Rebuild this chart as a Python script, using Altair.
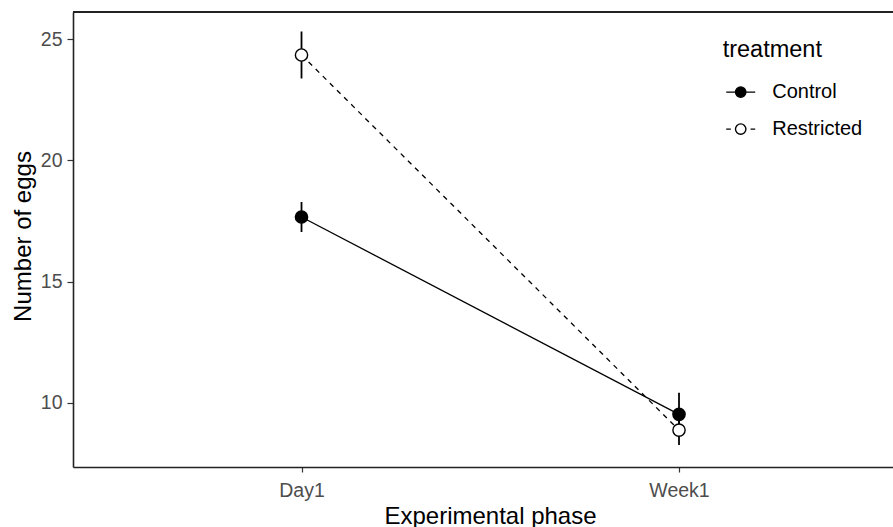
import altair as alt
import pandas as pd

phases = ["Day1", "Week1"]
treatments = ["Control", "Restricted"]
control_mean = [17.665, 9.51]
control_se = [0.62, 0.89]
restricted_mean = [24.36, 8.86]
restricted_se = [0.97, 0.62]

rows = []
for t, means, ses in [("Control", control_mean, control_se),
                      ("Restricted", restricted_mean, restricted_se)]:
    for p, m, s in zip(phases, means, ses):
        rows.append({"phase": p, "treatment": t, "mean": m, "lo": m - s, "hi": m + s})
df = pd.DataFrame(rows)

FONT = "Liberation Sans"

xscale = alt.Scale(type="point", padding=0.5861, align=0.5164)
yscale = alt.Scale(domain=[7.335, 26.136], nice=False, zero=False)

xaxis = alt.Axis(title="Experimental phase", labelAngle=0, tickSize=5, tickWidth=1.2,
                 tickColor="#333333", domainColor="#222222", domainWidth=1.6,
                 labelFont=FONT, labelFontSize=19.5, labelColor="#4d4d4d", labelPadding=9,
                 titleFont=FONT, titleFontSize=24, titleFontWeight="normal", titleColor="black",
                 titleBaseline="alphabetic", titleY=56, titleX=417, grid=False)
yaxis = alt.Axis(title="Number of eggs", values=[10, 15, 20, 25], tickSize=6, tickWidth=1.2,
                 tickColor="#333333", domainColor="#222222", domainWidth=1.6,
                 labelFont=FONT, labelFontSize=19.5, labelColor="#4d4d4d", labelPadding=5,
                 titleFont=FONT, titleFontSize=24, titleFontWeight="normal", titleColor="black",
                 titleBaseline="alphabetic", titleX=-42.5, titleY=224, grid=False)

X = alt.X("phase:N", scale=xscale, axis=xaxis, sort=phases)
Y = alt.Y("mean:Q", scale=yscale, axis=yaxis)

fill_scale = alt.Scale(domain=treatments, range=["black", "white"])

path_c = ("M-1,0L1,0M-0.36,0A0.36,0.36 0 1,1 0.36,0"
          "A0.36,0.36 0 1,1 -0.36,0Z")
path_r = ("M-1,0L-0.68,0M0.68,0L1,0M-0.36,0A0.36,0.36 0 1,1 0.36,0"
          "A0.36,0.36 0 1,1 -0.36,0Z")

legend = alt.Legend(title="treatment", orient="none", legendX=649.7, legendY=26.1,
                    padding=0, titleFont=FONT, titleFontSize=23.5, titleFontWeight="normal",
                    titleColor="black", titlePadding=15, labelFont=FONT, labelFontSize=20,
                    labelColor="black", rowPadding=11, symbolOffset=2.5, labelOffset=16,
                    symbolSize=841, symbolStrokeColor="black", symbolStrokeWidth=1.4)

base = alt.Chart(df)

line_control = base.mark_line(color="black", strokeWidth=1.3).transform_filter(
    alt.datum.treatment == "Control"
).encode(x=X, y=Y)

line_restricted = base.mark_line(color="black", strokeWidth=1.3, strokeDash=[5, 5]).transform_filter(
    alt.datum.treatment == "Restricted"
).encode(x=X, y=Y)

bars = base.mark_rule(color="black", strokeWidth=1.8).encode(
    x=X,
    y=alt.Y("lo:Q", scale=yscale, axis=yaxis),
    y2="hi:Q",
)

points = base.mark_point(filled=True, size=150, stroke="black", strokeWidth=1.4,
                         opacity=1).encode(
    x=X, y=Y,
    fill=alt.Fill("treatment:N", scale=fill_scale, legend=legend),
)

legend_layer = base.mark_point(filled=True, stroke="black", strokeWidth=1.4,
                               opacity=1).transform_filter("false").encode(
    x=X, y=Y,
    fill=alt.Fill("treatment:N", scale=fill_scale, legend=legend),
    shape=alt.Shape("treatment:N", scale=alt.Scale(domain=treatments, range=[path_c, path_r]),
                    legend=legend),
)

frame = base.mark_rule(color="#222222", strokeWidth=1.6).encode(
    y=alt.value(0), x=alt.value(0), x2=alt.value(820)
)

chart = alt.layer(line_control, line_restricted, bars, points, legend_layer, frame).properties(
    width=820, height=455,
    autosize=alt.AutoSizeParams(type="none"),
    padding={"left": 73, "top": 12, "right": 0, "bottom": 60},
).configure_view(stroke=None).configure(font=FONT, background="white")

chart.save("out.html", embed_options={"renderer": "svg", "actions": False})
